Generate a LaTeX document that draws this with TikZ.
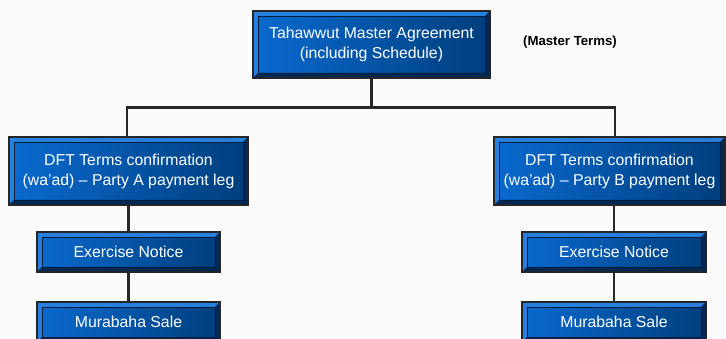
\documentclass[tikz,border=0pt]{standalone}
\usepackage{fontspec}
\setmainfont{Liberation Sans}
\usetikzlibrary{calc}

\definecolor{pagebg}{RGB}{250,250,250}
\definecolor{facelight}{RGB}{10,106,208}
\definecolor{facedark}{RGB}{0,62,124}
\definecolor{bevlight}{RGB}{40,128,222}
\definecolor{bevdark}{RGB}{0,40,84}
\definecolor{edgegray}{RGB}{38,38,38}

\tikzset{
  block/.style={draw=edgegray, line width=1.6pt, left color=facelight,
    right color=facedark, text=white, align=center,
    font=\fontsize{15.8}{20}\selectfont, inner sep=0pt,
    path picture={
      \coordinate (bvnw) at (path picture bounding box.north west);
      \coordinate (bvse) at (path picture bounding box.south east);
      \fill[bevlight] (bvnw) -- (bvnw -| bvse) -- ($(bvnw -| bvse)+(-5pt,-5pt)$)
        -- ($(bvnw)+(5pt,-5pt)$) -- ($(bvnw |- bvse)+(5pt,5pt)$) -- (bvnw |- bvse) -- cycle;
      \fill[bevdark] (bvse) -- (bvnw -| bvse) -- ($(bvnw -| bvse)+(-5pt,-5pt)$)
        -- ($(bvse)+(-5pt,5pt)$) -- ($(bvnw |- bvse)+(5pt,5pt)$) -- (bvnw |- bvse) -- cycle;
      \draw[bevdark!70!black, line width=0.5pt] ($(bvnw)+(5pt,-5pt)$) rectangle ($(bvse)+(-5pt,5pt)$);
    }},
  link/.style={draw=edgegray, line width=2.2pt}
}

\begin{document}
\begin{tikzpicture}[x=1pt,y=-1pt]
  \fill[pagebg] (0,0) rectangle (726,339);
  \useasboundingbox (0,0) rectangle (726,339);

  % top level
  \node[block, minimum width=237pt, minimum height=67pt] (master) at (371.5,44.5)
    {Tahawwut Master Agreement\\(including Schedule)};
  \node[font=\fontsize{13.2}{15}\selectfont\bfseries] (terms) at (570,42.5) {(Master Terms)};

  % the two payment legs
  \node[block, minimum width=239pt, minimum height=68pt] (dftA) at (128.5,171)
    {DFT Terms confirmation\\(wa'ad) -- Party A payment leg};
  \node[block, minimum width=231pt, minimum height=68pt] (dftB) at (609.5,171)
    {DFT Terms confirmation\\(wa'ad) -- Party B payment leg};

  \node[block, minimum width=183pt, minimum height=40pt] (exA) at (128.5,252) {Exercise Notice};
  \node[block, minimum width=184pt, minimum height=40pt] (exB) at (614,252) {Exercise Notice};

  \node[block, minimum width=183pt, minimum height=40pt] (murA) at (128.5,322) {Murabaha Sale};
  \node[block, minimum width=184pt, minimum height=40pt] (murB) at (614,322) {Murabaha Sale};

  % connectors
  \coordinate (bus) at (371.5,107.5);
  \draw[link] (master.south) -- (bus);
  \draw[link] (dftA.north -| 127,0) |- (bus) -| (dftB.north -| 615,0);
  \draw[link] (dftA.south -| exA) -- (exA.north);
  \draw[link] (dftB.south -| exB) -- (exB.north);
  \draw[link] (exA.south) -- (murA.north);
  \draw[link] (exB.south) -- (murB.north);
\end{tikzpicture}
\end{document}
